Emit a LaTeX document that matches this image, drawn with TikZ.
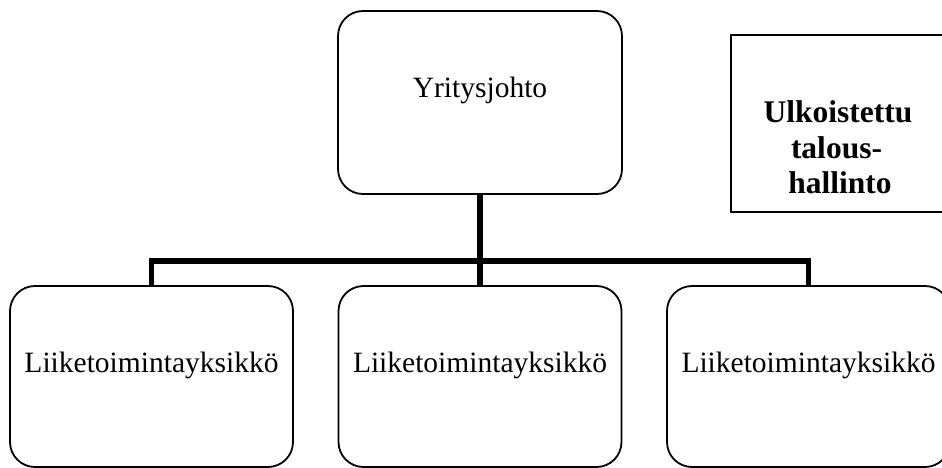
\documentclass[tikz,border=0pt]{standalone}
\usepackage{fontspec}
\setmainfont{Liberation Serif}
\begin{document}
\begin{tikzpicture}[x=1pt,y=-1pt,
  unitbox/.style={draw, line width=1.8pt, rounded corners=25pt, minimum width=283pt, minimum height=181pt, inner sep=0pt},
  outbox/.style={draw, line width=1.8pt, minimum width=216pt, minimum height=177pt, inner sep=0pt},
  lbl/.style={font=\fontsize{29.5}{35}\selectfont, inner sep=0pt, anchor=base},
  blbl/.style={font=\fontsize{31.5}{35}\selectfont\bfseries, inner sep=0pt, anchor=base},
  conn/.style={line width=5.5pt}]
\useasboundingbox (0,0) rectangle (942,468);
\clip (0,0) rectangle (942,468);
\node[unitbox, minimum width=284pt, minimum height=183pt] (top) at (480,102.5) {};
\node[unitbox] (b1) at (151.5,376.5) {};
\node[unitbox] (b2) at (480,376.5) {};
\node[unitbox] (b3) at (808.5,376.5) {};
\node[outbox] (ext) at (839,123.5) {};
\node[lbl] (ttop) at (480,98) {Yritysjohto};
\node[lbl] (t1) at (151.5,372) {Liiketoimintayksikkö};
\node[lbl] (t2) at (480,372) {Liiketoimintayksikkö};
\node[lbl] (t3) at (808.5,372) {Liiketoimintayksikkö};
\node[blbl] (x1) at (838,123) {Ulkoistettu};
\node[blbl] (x2) at (836.5,158) {talous-};
\node[blbl] (x3) at (840,193) {hallinto};
\draw[conn] (top.south) -- (b2.north);
\draw[conn] (b1.north) -- ++(0,-24) -| (b3.north);
\end{tikzpicture}
\end{document}
